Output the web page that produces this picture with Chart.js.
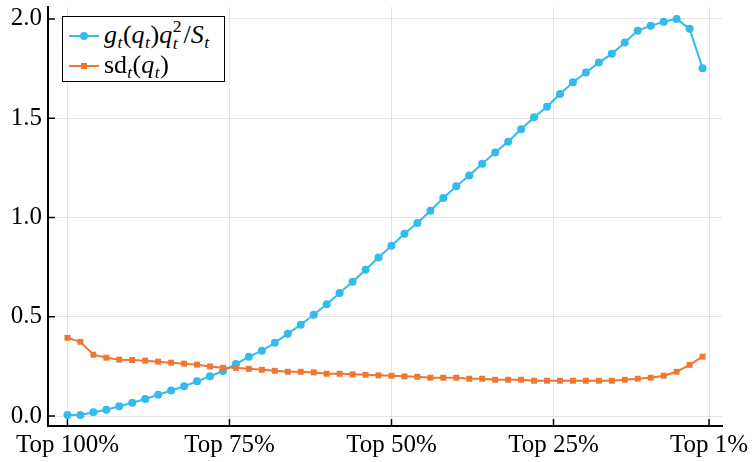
<!DOCTYPE html>
<html>
<head>
<meta charset="utf-8">
<script src="https://cdn.jsdelivr.net/npm/chart.js@4"></script>
<style>
  html, body { margin: 0; padding: 0; background: #fff; }
  #wrap { position: relative; width: 754px; height: 462px; }
  #legend { position: absolute; left: 62px; top: 16px; width: 161px; height: 64px;
    border: 1.5px solid #000; background: #fff; font-family: 'Liberation Serif', serif; font-size: 26px; color: #000; }
  .row { position: absolute; left: 0; height: 30px; display: flex; align-items: center; white-space: nowrap; }
  .row svg { margin-left: 6px; margin-right: 5px; }
  .m i { letter-spacing: 0.5px; }
  .m sub { font-size: 0.68em; vertical-align: -0.3em; line-height: 1; }
  .ss { display: inline-flex; flex-direction: column; vertical-align: middle; font-size: 0.68em; line-height: 0.95; margin-top: -4px; margin-right: 2px; }
</style>
</head>
<body>
<div id="wrap">
  <canvas id="c" width="754" height="462"></canvas>
  <div id="legend">
    <div class="row" style="top:4px">
      <svg width="30" height="12"><line x1="0" y1="6" x2="30" y2="6" stroke="#33BBEE" stroke-width="2"/><circle cx="15" cy="6" r="4" fill="#33BBEE"/></svg>
      <span class="m"><i>g</i><sub><i>t</i></sub>(<i>q</i><sub><i>t</i></sub>)<i>q</i><span class="ss"><span>2</span><i>t</i></span>/<i>S</i><sub><i>t</i></sub></span>
    </div>
    <div class="row" style="top:34px">
      <svg width="30" height="12"><line x1="0" y1="6" x2="30" y2="6" stroke="#EE7733" stroke-width="2"/><rect x="12" y="3" width="6" height="6" fill="#EE7733"/></svg>
      <span class="m">sd<sub><i>t</i></sub>(<i>q</i><sub><i>t</i></sub>)</span>
    </div>
  </div>
</div>
<script>
// percentile rank of each group (0 = Top 100%)
const ranks = [0,2,4,6,8,10,12,14,16,18,20,22,24,26,28,30,32,34,36,38,40,42,44,46,48,
               50,52,54,56,58,60,62,64,66,68,70,72,74,76,78,80,82,84,86,88,90,92,94,96,98];

const gq2S = [0.005,0.005,0.019,0.032,0.049,0.067,0.086,0.107,0.129,0.150,
              0.175,0.200,0.227,0.262,0.299,0.329,0.369,0.415,0.460,0.510,
              0.563,0.620,0.677,0.737,0.799,0.858,0.918,0.972,1.034,1.098,
              1.157,1.211,1.271,1.327,1.382,1.444,1.505,1.558,1.622,1.681,
              1.730,1.780,1.824,1.881,1.941,1.965,1.986,2.000,1.950,1.752];

const sdq = [0.394,0.374,0.309,0.294,0.284,0.282,0.279,0.274,0.269,0.264,
             0.259,0.250,0.243,0.243,0.238,0.233,0.228,0.223,0.223,0.220,
             0.213,0.213,0.210,0.208,0.205,0.203,0.200,0.198,0.193,0.193,
             0.193,0.188,0.188,0.183,0.183,0.183,0.178,0.178,0.178,0.178,
             0.178,0.178,0.178,0.183,0.188,0.193,0.203,0.223,0.258,0.299];

const xTicks = [0, 25, 50, 75, 99];
const xTickLabels = ['Top 100%', 'Top 75%', 'Top 50%', 'Top 25%', 'Top 1%'];
const yTicks = [0, 0.5, 1.0, 1.5, 2.0];

const serif = { family: "'Liberation Serif', serif", size: 25 };

const innerTicks = { id: 'innerTicks', afterDraw(chart) {
  const { ctx, chartArea: a, scales: { x, y } } = chart;
  ctx.save(); ctx.strokeStyle = '#000'; ctx.lineWidth = 1.5; ctx.beginPath();
  xTicks.forEach(v => { const p = x.getPixelForValue(v); ctx.moveTo(p, a.bottom); ctx.lineTo(p, a.bottom - 7); });
  yTicks.forEach(v => { const p = y.getPixelForValue(v); ctx.moveTo(a.left, p); ctx.lineTo(a.left + 7, p); });
  ctx.stroke(); ctx.restore();
}};

const noPad = s => { s.paddingLeft = 0; s.paddingRight = 0; s.paddingTop = 0; s.paddingBottom = 0; };

new Chart(document.getElementById('c'), {
  type: 'line',
  data: {
    datasets: [
      { data: ranks.map((r, i) => ({ x: r, y: gq2S[i] })), borderColor: '#33BBEE', backgroundColor: '#33BBEE',
        borderWidth: 2, pointRadius: 4, pointBorderWidth: 0, pointStyle: 'circle', order: 1 },
      { data: ranks.map((r, i) => ({ x: r, y: sdq[i] })), borderColor: '#EE7733', backgroundColor: '#EE7733',
        borderWidth: 2, pointRadius: 4.2, pointBorderWidth: 0, pointStyle: 'rect', order: 0 }
    ]
  },
  options: {
    responsive: false, animation: false, events: [],
    layout: { padding: { top: 7, right: 32, left: 0, bottom: 0 } },
    plugins: { legend: { display: false }, tooltip: { enabled: false } },
    scales: {
      x: { type: 'linear', min: -3, max: 101,
        afterBuildTicks: s => { s.ticks = xTicks.map(v => ({ value: v })); },
        afterFit: s => { s.height = 36; noPad(s); },
        ticks: { color: '#000', font: serif, padding: 4, maxRotation: 0, autoSkip: false,
          callback: v => xTickLabels[xTicks.indexOf(v)] },
        grid: { color: 'rgba(0,0,0,0.1)', lineWidth: 1, drawTicks: false },
        border: { color: '#000', width: 2 } },
      y: { min: -0.05, max: 2.06,
        afterBuildTicks: s => { s.ticks = yTicks.map(v => ({ value: v })); },
        afterFit: s => { s.width = 48; noPad(s); },
        ticks: { color: '#000', font: serif, padding: 6, callback: v => v.toFixed(1) },
        grid: { color: 'rgba(0,0,0,0.1)', lineWidth: 1, drawTicks: false },
        border: { color: '#000', width: 2 } }
    }
  },
  plugins: [innerTicks]
});
</script>
</body>
</html>
